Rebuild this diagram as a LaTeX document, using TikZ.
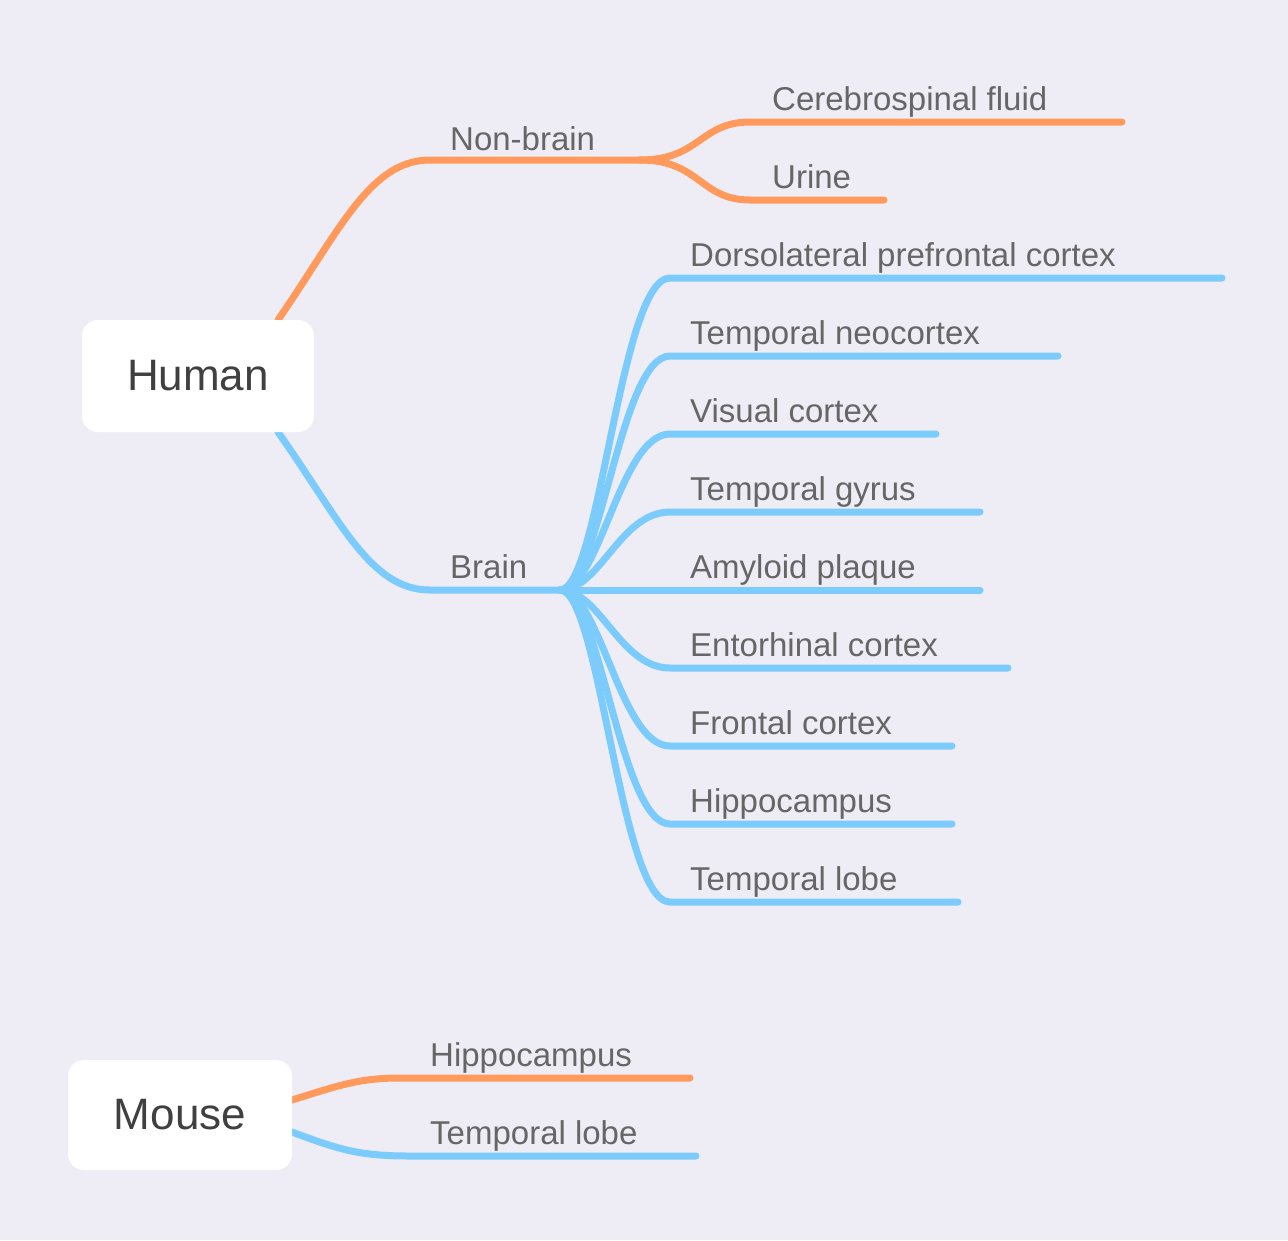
\documentclass[tikz,border=0pt]{standalone}
\usepackage{fontspec}
\setmainfont{Liberation Sans}
\begin{document}
\definecolor{bg}{HTML}{EEEDF5}
\definecolor{org}{HTML}{FF9A5C}
\definecolor{blu}{HTML}{7BCBFC}
\definecolor{txt}{HTML}{666666}
\begin{tikzpicture}[x=1pt,y=-1pt,
 box/.style={fill=white,rounded corners=16pt,font=\fontsize{44}{50}\selectfont,text=black!75},
 lab/.style={anchor=base west,font=\fontsize{33}{38}\selectfont,text=txt,inner sep=0},
 o/.style={org,line width=7pt,line cap=round},
 b/.style={blu,line width=7pt,line cap=round}]
\fill[bg] (0,0) rectangle (1288,1240);
\useasboundingbox (0,0) rectangle (1288,1240);
% Human
\coordinate (hb) at (278,320);
\coordinate (hl) at (278,432);
\coordinate (nb0) at (430,160);
\coordinate (nb) at (640,160);
\draw[o] (hb) .. controls (340,230) and (370,160) .. (nb0) -- (nb);
\node[lab] at (450,150) {Non-brain};
\coordinate (c1a) at (750,122); \coordinate (c1b) at (1122,122);
\coordinate (c2a) at (750,200); \coordinate (c2b) at (884,200);
\draw[o] (nb) .. controls (700,160) and (700,122) .. (c1a) -- (c1b);
\draw[o] (nb) .. controls (700,160) and (700,200) .. (c2a) -- (c2b);
\node[lab] at (772,110) {Cerebrospinal fluid};
\node[lab] at (772,188) {Urine};
\coordinate (br0) at (430,590);
\coordinate (br) at (560,590);
\draw[b] (hl) .. controls (340,520) and (370,590) .. (br0) -- (br);
\node[lab] at (450,578) {Brain};
\foreach \y/\e/\t in {278/1222/Dorsolateral prefrontal cortex,356/1058/Temporal neocortex,434/936/Visual cortex,512/980/Temporal gyrus,590/980/Amyloid plaque,668/1008/Entorhinal cortex,746/952/Frontal cortex,824/952/Hippocampus,902/958/Temporal lobe}{
 \coordinate (s\y) at (670,\y); \coordinate (e\y) at (\e,\y);
 \draw[b] (br) .. controls (600,590) and (620,\y) .. (s\y) -- (e\y);
 \node[lab] at (690,\y-12) {\t};
}
\node[box,minimum width=232pt,minimum height=112pt] (human) at (198,376) {Human};
% Mouse
\coordinate (mo) at (292,1100); \coordinate (m1a) at (400,1078); \coordinate (m1b) at (690,1078);
\coordinate (mb) at (292,1132); \coordinate (m2a) at (410,1156); \coordinate (m2b) at (696,1156);
\draw[o] (mo) .. controls (340,1085) and (360,1078) .. (m1a) -- (m1b);
\draw[b] (mb) .. controls (340,1150) and (360,1156) .. (m2a) -- (m2b);
\node[lab] at (430,1066) {Hippocampus};
\node[lab] at (430,1144) {Temporal lobe};
\node[box,minimum width=224pt,minimum height=110pt] (mouse) at (180,1115) {Mouse};
\end{tikzpicture}
\end{document}
